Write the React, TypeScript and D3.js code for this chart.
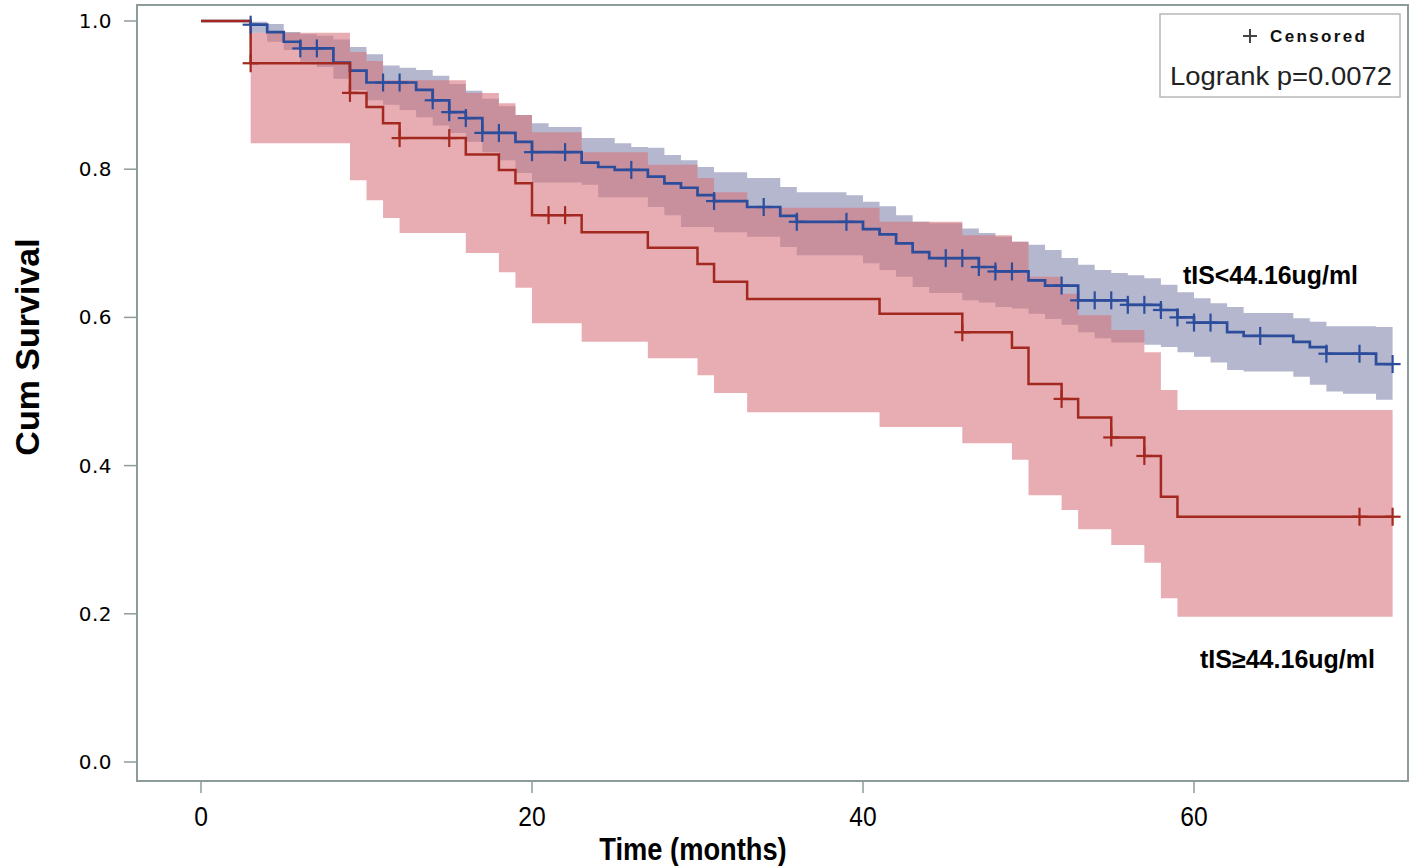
import React from "react";
import * as d3 from "d3";

// ---- data ----
const xTicks = [0, 20, 40, 60];
const yTicks = [0, 0.2, 0.4, 0.6, 0.8, 1.0];
const endTime = 72;

// tIS<44.16 (blue) Kaplan-Meier steps
const lowTimes = [0, 3, 4, 5, 6, 8, 9, 10, 13, 14, 15, 16, 17, 19, 20, 23, 24, 25, 27, 28, 29, 30, 31, 33, 35, 36, 40, 41, 42, 43, 44, 47, 48, 50, 51, 53, 56, 58, 59, 60, 62, 63, 66, 67, 68, 71];
const lowSurv = [1.0, 0.995, 0.985, 0.972, 0.963, 0.944, 0.933, 0.917, 0.907, 0.893, 0.877, 0.869, 0.849, 0.837, 0.823, 0.809, 0.803, 0.799, 0.79, 0.781, 0.775, 0.765, 0.757, 0.749, 0.737, 0.729, 0.719, 0.712, 0.7, 0.688, 0.68, 0.668, 0.662, 0.65, 0.643, 0.623, 0.617, 0.61, 0.6, 0.593, 0.58, 0.575, 0.567, 0.56, 0.551, 0.537];
const lowCensored = [3, 6, 7, 11, 12, 14, 15, 16, 17, 18, 20, 22, 26, 31, 34, 36, 39, 45, 46, 47, 48, 49, 52, 53, 54, 55, 56, 57, 58, 59, 60, 61, 64, 68, 70, 72];
const lowBandTimes = [3, 4, 5, 6, 7, 8, 9, 10, 11, 12, 13, 14, 15, 16, 17, 18, 19, 20, 21, 23, 24, 25, 26, 27, 28, 29, 30, 31, 33, 35, 36, 39, 40, 41, 42, 43, 44, 46, 47, 48, 49, 50, 51, 52, 53, 54, 55, 56, 57, 58, 59, 60, 61, 62, 63, 66, 67, 68, 69, 71];
const lowUpper = [0.999, 0.996, 0.985, 0.982, 0.98, 0.975, 0.965, 0.955, 0.94, 0.937, 0.934, 0.926, 0.915, 0.906, 0.895, 0.885, 0.873, 0.862, 0.857, 0.842, 0.842, 0.835, 0.83, 0.829, 0.819, 0.812, 0.803, 0.796, 0.788, 0.776, 0.769, 0.765, 0.756, 0.75, 0.738, 0.729, 0.727, 0.72, 0.714, 0.709, 0.702, 0.698, 0.691, 0.68, 0.671, 0.664, 0.66, 0.657, 0.653, 0.644, 0.634, 0.626, 0.619, 0.614, 0.606, 0.599, 0.594, 0.588, 0.588, 0.587];
const lowLower = [0.984, 0.972, 0.961, 0.945, 0.938, 0.922, 0.907, 0.893, 0.887, 0.88, 0.87, 0.859, 0.849, 0.837, 0.823, 0.812, 0.795, 0.782, 0.782, 0.779, 0.762, 0.762, 0.762, 0.749, 0.738, 0.722, 0.722, 0.715, 0.709, 0.695, 0.684, 0.684, 0.673, 0.664, 0.655, 0.641, 0.633, 0.623, 0.62, 0.614, 0.612, 0.605, 0.598, 0.59, 0.58, 0.572, 0.566, 0.566, 0.563, 0.56, 0.553, 0.547, 0.539, 0.529, 0.527, 0.52, 0.509, 0.5, 0.497, 0.489];

// tIS>=44.16 (red) Kaplan-Meier steps
const highTimes = [0, 3, 9, 10, 11, 12, 16, 18, 19, 20, 23, 27, 30, 31, 33, 41, 46, 49, 50, 52, 53, 55, 57, 58, 59];
const highSurv = [1.0, 0.943, 0.903, 0.884, 0.862, 0.842, 0.82, 0.799, 0.781, 0.738, 0.715, 0.694, 0.672, 0.648, 0.625, 0.605, 0.58, 0.559, 0.51, 0.49, 0.465, 0.438, 0.413, 0.358, 0.331];
const highCensored = [3, 9, 12, 15, 21, 22, 46, 52, 55, 57, 70, 72];
const highBandTimes = [3, 9, 10, 11, 12, 16, 18, 19, 20, 23, 27, 30, 31, 33, 41, 46, 49, 50, 52, 53, 55, 57, 58, 59];
const highUpper = [0.984, 0.958, 0.946, 0.92, 0.92, 0.903, 0.889, 0.873, 0.85, 0.823, 0.806, 0.788, 0.769, 0.748, 0.729, 0.711, 0.702, 0.655, 0.632, 0.603, 0.583, 0.553, 0.502, 0.475];
const highLower = [0.835, 0.785, 0.758, 0.734, 0.714, 0.687, 0.661, 0.64, 0.592, 0.567, 0.545, 0.522, 0.498, 0.472, 0.452, 0.43, 0.408, 0.36, 0.34, 0.314, 0.293, 0.269, 0.221, 0.196];

const lowLabel = "tIS<44.16ug/ml";
const highLabel = "tIS\u226544.16ug/ml";
const legendCensored = "Censored";
const legendLogrank = "Logrank p=0.0072";
const xTitle = "Time (months)";
const yTitle = "Cum Survival";

// ---- styles ----
const RED = "#a3281f";
const BLUE = "#2c4c9c";
const BLUE_BAND = "#b5b7ce";
const RED_BAND = "#d6727a";
const FRAME = "#8d9b9b";
const SANS = "'Liberation Sans', Arial, sans-serif";

const W = 1416;
const H = 866;
const frame = { left: 137, top: 5, right: 1408, bottom: 781 };

const x = d3.scaleLinear().domain([0, 60]).range([201, 1194]);
const y = d3.scaleLinear().domain([0, 1]).range([762, 21]);

function stepValue(times: number[], vals: number[], t: number) {
  const i = d3.bisectRight(times, t) - 1;
  return vals[Math.max(0, i)];
}

function stepPts(times: number[], vals: number[]) {
  const pts = times.map((t, i) => [t, vals[i]] as [number, number]);
  pts.push([endTime, vals[vals.length - 1]]);
  return pts;
}

function bandPts(times: number[], up: number[], lo: number[]) {
  const pts = times.map((t, i) => ({ t, u: up[i], l: lo[i] }));
  pts.push({ t: endTime, u: up[up.length - 1], l: lo[lo.length - 1] });
  return pts;
}

const line = d3
  .line<[number, number]>()
  .x((d) => x(d[0]))
  .y((d) => y(d[1]))
  .curve(d3.curveStepAfter);

const area = d3
  .area<{ t: number; u: number; l: number }>()
  .x((d) => x(d.t))
  .y0((d) => y(d.l))
  .y1((d) => y(d.u))
  .curve(d3.curveStepAfter);

function Censors({ times, stepT, stepV, color }: { times: number[]; stepT: number[]; stepV: number[]; color: string }) {
  return (
    <g stroke={color} strokeWidth={2.2}>
      {times.map((t, i) => {
        const cx = x(t);
        const cy = y(stepValue(stepT, stepV, t));
        return (
          <g key={i}>
            <line x1={cx} x2={cx} y1={cy - 9} y2={cy + 9} />
            <line x1={cx - 8} x2={cx + 8} y1={cy} y2={cy} />
          </g>
        );
      })}
    </g>
  );
}

export default function App() {
  return (
    <svg width={W} height={H} style={{ position: "absolute", left: 0, top: 0, background: "#fff" }}>
      <rect x={0} y={0} width={W} height={H} fill="#fff" />
      {/* bands */}
      <path d={area(bandPts(lowBandTimes, lowUpper, lowLower)) || ""} fill={BLUE_BAND} />
      <path d={area(bandPts(highBandTimes, highUpper, highLower)) || ""} fill={RED_BAND} fillOpacity={0.58} />
      {/* lines */}
      <path d={line(stepPts(lowTimes, lowSurv)) || ""} fill="none" stroke={BLUE} strokeWidth={2.7} />
      <path d={line(stepPts(highTimes, highSurv)) || ""} fill="none" stroke={RED} strokeWidth={2.5} />
      <Censors times={lowCensored} stepT={lowTimes} stepV={lowSurv} color={BLUE} />
      <Censors times={highCensored} stepT={highTimes} stepV={highSurv} color={RED} />

      {/* frame */}
      <rect
        x={frame.left}
        y={frame.top}
        width={frame.right - frame.left}
        height={frame.bottom - frame.top}
        fill="none"
        stroke={FRAME}
        strokeWidth={2}
      />

      {/* y axis */}
      {yTicks.map((t) => (
        <g key={t}>
          <line x1={frame.left - 13} x2={frame.left} y1={y(t)} y2={y(t)} stroke={FRAME} strokeWidth={1.5} />
          <text
            x={112}
            y={y(t)}
            textAnchor="end"
            dominantBaseline="central"
            fontFamily="'DejaVu Sans', sans-serif"
            fontSize={20}
            letterSpacing={0.5}
            fill="#000"
          >
            {t.toFixed(1)}
          </text>
        </g>
      ))}
      <text
        transform={`translate(39, ${(frame.top + frame.bottom) / 2 - 46}) rotate(-90)`}
        textAnchor="middle"
        fontFamily={SANS}
        fontWeight="bold"
        fontSize={34}
        fill="#000"
      >
        {yTitle}
      </text>

      {/* x axis */}
      {xTicks.map((t) => (
        <g key={t}>
          <line x1={x(t)} x2={x(t)} y1={frame.bottom} y2={frame.bottom + 12} stroke={FRAME} strokeWidth={1.5} />
          <text
            transform={`translate(${x(t)}, 826) scale(0.88, 1)`}
            textAnchor="middle"
            fontFamily={SANS}
            fontSize={28}
            fill="#000"
          >
            {t}
          </text>
        </g>
      ))}
      <text
        transform="translate(693, 860) scale(0.88, 1)"
        textAnchor="middle"
        fontFamily={SANS}
        fontWeight="bold"
        fontSize={31}
        fill="#000"
      >
        {xTitle}
      </text>

      {/* legend */}
      <rect x={1160} y={14} width={240} height={83} fill="#fff" stroke="#b8b8b8" strokeWidth={1.5} />
      <g stroke="#444" strokeWidth={2}>
        <line x1={1250} x2={1250} y1={29} y2={43} />
        <line x1={1243} x2={1257} y1={36} y2={36} />
      </g>
      <text
        x={1270}
        y={42}
        fontFamily={SANS}
        fontWeight="bold"
        fontSize={17}
        textLength={95}
        lengthAdjust="spacing"
        fill="#111"
      >
        {legendCensored}
      </text>
      <text
        x={1170}
        y={85}
        fontFamily={SANS}
        fontSize={25}
        textLength={222}
        lengthAdjust="spacingAndGlyphs"
        fill="#222"
      >
        {legendLogrank}
      </text>

      {/* curve labels */}
      <text x={1183} y={284} fontFamily={SANS} fontWeight="bold" fontSize={25} textLength={175} lengthAdjust="spacingAndGlyphs" fill="#000">
        {lowLabel}
      </text>
      <text x={1200} y={668} fontFamily={SANS} fontWeight="bold" fontSize={25} textLength={175} lengthAdjust="spacingAndGlyphs" fill="#000">
        {highLabel}
      </text>
    </svg>
  );
}
